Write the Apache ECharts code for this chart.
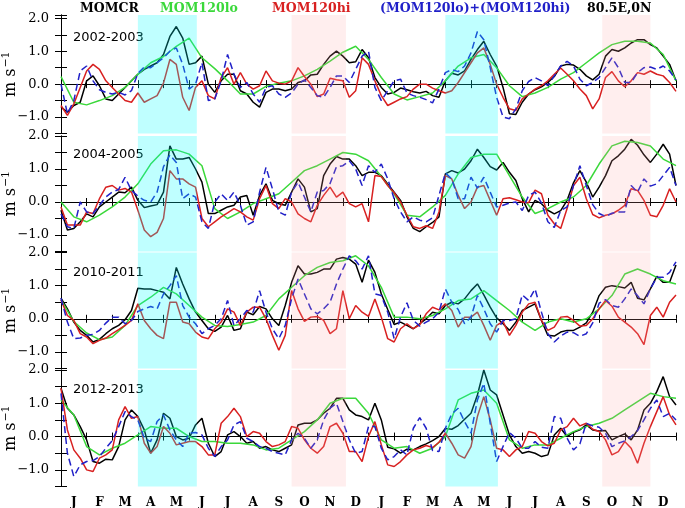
<!DOCTYPE html>
<html><head><meta charset="utf-8">
<script src="https://cdn.jsdelivr.net/npm/echarts@6/dist/echarts.min.js"></script>
<style>html,body{margin:0;padding:0;background:#fff}#c{width:685px;height:508px}</style>
</head><body><div id="c"></div>
<script>
const monthLabels = ['J','F','M','A','M','J','J','A','S','O','N','D','J','F','M','A','M','J','J','A','S','O','N','D'];
// x positions in months from 1 January of the first year
const xQuarter = [0,0.25,0.5,0.75,1,1.25,1.5,1.75,2,2.25,2.5,2.75,3,3.25,3.5,3.75,4,4.25,4.5,4.75,5,5.25,5.5,5.75,6,6.25,6.5,6.75,7,7.25,7.5,7.75,8,8.25,8.5,8.75,9,9.25,9.5,9.75,10,10.25,10.5,10.75,11,11.25,11.5,11.75,12,12.25,12.5,12.75,13,13.25,13.5,13.75,14,14.25,14.5,14.75,15,15.25,15.5,15.75,16,16.25,16.5,16.75,17,17.25,17.5,17.75,18,18.25,18.5,18.75,19,19.25,19.5,19.75,20,20.25,20.5,20.75,21,21.25,21.5,21.75,22,22.25,22.5,22.75,23,23.25,23.5,23.75,24];
const xHalf = [0,0.5,1,1.5,2,2.5,3,3.5,4,4.5,5,5.5,6,6.5,7,7.5,8,8.5,9,9.5,10,10.5,11,11.5,12,12.5,13,13.5,14,14.5,15,15.5,16,16.5,17,17.5,18,18.5,19,19.5,20,20.5,21,21.5,22,22.5,23,23.5,24];
const yearLabels = ['2002-2003','2004-2005','2010-2011','2012-2013'];
const legendNames = ['MOMCR','MOM120lo','MOM120hi','(MOM120lo)+(MOM120hi)'];
const locationLabel = '80.5E,0N';

// ---- 2002-2003 ----
const momcr_a = [-0.7,-0.85,-0.65,-0.55, 0.1,0.25,-0.05,-0.45, -0.5,-0.3,-0.1,0.1, 0.3,0.45,0.55,0.65, 0.9,1.45,1.75,1.4, 0.6,0.65,0.85,0.0,
  -0.25,0.1,0.3,0.3, -0.2,-0.3,-0.55,-0.7, -0.25,-0.15,-0.15,-0.2, -0.15,0.05,0.1,0.28, 0.3,0.6,0.85,1.0, 0.85,0.65,0.68,1.05,
  0.8,0.2,-0.1,-0.3, -0.25,-0.12,-0.17,-0.23, -0.27,-0.22,-0.35,-0.4, 0.1,0.33,0.28,0.4, 0.75,1.05,1.3,0.9, 0.55,-0.1,-0.9,-0.92,
  -0.55,-0.3,-0.17,-0.08, 0.05,0.23,0.55,0.6, 0.58,0.45,0.25,0.13, 0.3,0.85,1.05,1.0, 1.1,1.25,1.35,1.35, 1.2,1.1,0.85,0.6, 0.1];
const lo_a = [0.23,-0.55,-0.63,-0.5,-0.35,-0.1,0.3,0.65,0.84,1.15,1.4,0.8,0.47,0.1,-0.3,-0.3,-0.07,0.03,0.1,0.25,0.45,0.7,0.97,1.15,
  0.75,0.2,-0.3,-0.48,-0.38,-0.27,0.1,0.55,0.8,0.9,0.5,-0.05,-0.38,-0.27,-0.1,0.15,0.35,0.65,0.95,1.2,1.3,1.3,1.25,0.9,0.1];
const hi_a = [-0.65,-0.95,-0.6,-0.1, 0.4,0.6,0.45,0.1, -0.1,-0.3,-0.5,-0.55, -0.27,-0.55,-0.45,-0.35, 0.03,0.75,0.6,-0.4, -0.8,-0.1,0.1,-0.35,
  -0.45,0.2,0.5,0.0, 0.35,0.0,-0.15,-0.05, 0.4,0.1,0.03,0.0, 0.1,0.5,0.23,0.0, -0.38,-0.3,0.18,0.13, 0.1,-0.4,-0.2,0.8,
  0.6,0.1,-0.35,-0.65, -0.55,-0.45,-0.38,-0.15, 0.0,0.0,-0.12,-0.2, -0.27,-0.2,0.05,0.35, 0.65,0.95,1.1,0.6, 0.0,-0.4,-0.75,-0.8,
  -0.45,-0.3,-0.15,-0.05, 0.1,0.3,0.49,0.3, 0.1,-0.15,-0.35,-0.75, -0.45,0.2,0.38,0.1, -0.08,0.1,0.35,0.3, 0.4,0.3,0.25,0.05, -0.22];
const sum_a = [0.0,-0.9,-0.5,0.4, 0.55,0.1,-0.17,-0.25, -0.3,-0.25,-0.33,-0.2, 0.33,0.52,0.5,0.65, 0.8,1.0,1.1,0.6, -0.15,0.0,0.65,-0.5,
  -0.45,0.1,0.9,0.3, -0.1,0.05,-0.3,-0.55, -0.1,-0.05,-0.3,-0.4, -0.27,0.0,0.13,-0.1, -0.35,-0.4,-0.1,0.25, 0.25,0.05,0.45,0.85,
  1.0,-0.1,-0.5,-0.2, 0.1,0.15,-0.27,-0.35, -0.4,-0.47,-0.57,-0.15, 0.35,0.44,0.38,0.55, 0.95,1.6,1.35,0.5, -0.4,-1.0,-1.05,-0.75,
  -0.2,0.08,0.2,0.1, -0.05,0.25,0.55,0.69, 0.55,0.15,-0.05,0.05, 0.2,0.5,0.8,0.5, 0.05,0.05,0.35,0.5, 0.52,0.45,0.55,0.4, 0.13];

// ---- 2004-2005 ----
const momcr_b = [-0.25,-0.85,-0.8,-0.6, -0.36,-0.45,-0.15,0.0, 0.15,0.3,0.28,0.45, 0.05,-0.17,-0.12,-0.08, 0.3,1.7,1.3,1.3, 1.35,1.0,0.6,-0.35,
  -0.35,-0.25,-0.15,-0.1, 0.15,0.2,-0.4,0.2, 0.55,0.05,-0.05,-0.1, 0.3,0.7,0.45,-0.3, -0.2,0.8,1.15,1.38, 1.3,1.3,1.1,0.8,
  0.9,0.9,0.8,0.55, 0.3,0.05,-0.45,-0.8, -0.9,-0.75,-0.62,-0.45, 0.85,0.95,0.88,1.0, 1.25,1.6,1.35,1.07, 0.97,1.2,0.9,0.65,
  0.1,-0.3,0.05,-0.05, -0.25,-0.36,-0.26,0.05, 0.58,0.95,0.6,0.15, 0.45,0.8,1.25,1.4, 1.6,1.9,1.72,1.43, 1.2,1.45,1.75,1.45, 0.5];
const lo_b = [0.0,-0.45,-0.6,-0.4,-0.15,0.15,0.55,1.15,1.55,1.58,1.45,1.1,-0.2,-0.5,-0.3,-0.05,0.1,0.25,0.6,0.95,1.1,1.3,1.5,1.45,
  1.25,0.77,0.25,-0.4,-0.45,-0.15,0.2,0.85,1.35,1.45,1.45,0.8,0.15,-0.35,-0.2,0.0,0.15,0.5,1.15,1.7,1.84,1.8,1.7,1.3,1.1];
const hi_b = [-0.15,-0.7,-0.7,-0.7, -0.3,-0.35,0.1,0.45, 0.5,0.36,0.41,0.3, -0.25,-0.85,-1.05,-0.92, -0.5,0.95,0.7,0.7, 0.55,0.45,-0.5,-0.75,
  -0.6,-0.45,-0.33,-0.2, -0.3,-0.45,-0.55,0.1, 0.5,-0.05,-0.2,0.1, 0.0,-0.36,-0.5,-0.6, -0.1,0.2,0.45,0.15, 0.3,-0.05,-0.15,-0.05,
  -0.6,0.8,0.77,0.5, 0.28,0.0,-0.4,-0.75, -0.8,-0.72,-0.8,-0.3, 0.8,0.7,0.2,-0.2, 0.0,0.45,0.5,0.05, -0.4,0.1,0.13,0.07,
  0.0,-0.02,0.36,0.25, -0.4,-0.66,-0.8,-0.2, 0.5,0.75,0.1,-0.38, -0.48,-0.4,-0.36,-0.25, -0.1,0.4,0.35,0.05, -0.4,-0.45,-0.1,0.4, 0.0];
const sum_b = [-0.36,-0.75,-0.8,0.0, -0.3,-0.35,-0.1,0.15, 0.3,0.38,0.75,0.35, 0.18,0.05,0.0,0.3, 1.07,1.43,1.2,0.1, 0.25,0.15,-0.6,-0.8,
  0.0,0.25,0.05,0.3, -0.1,-0.7,-0.6,0.3, 1.05,0.4,-0.3,-0.4, 0.3,0.6,0.15,-0.3, 0.3,0.35,0.56,1.07, 1.1,1.25,1.0,0.5,
  1.1,0.9,1.15,0.7, 0.1,-0.3,-0.6,-0.45, -0.55,-0.6,-0.48,0.2, 0.88,0.7,0.1,0.1, 0.75,0.42,0.75,0.3, -0.15,-0.1,-0.03,0.0,
  -0.26,0.2,0.3,-0.03, -0.6,-0.77,-0.26,-0.15, 0.5,1.1,0.5,-0.08, -0.35,-0.44,-0.34,-0.3, -0.3,0.5,0.3,0.7, 0.48,0.55,0.8,1.05, 0.5];

// ---- 2010-2011 ----
const momcr_c = [0.62,0.3,-0.1,-0.35, -0.5,-0.7,-0.62,-0.45, -0.3,-0.2,-0.03,0.25, 0.92,0.9,0.9,0.85, 0.8,0.6,1.55,1.05, 0.6,0.2,-0.05,-0.3,
  -0.38,-0.25,0.1,-0.35, -0.3,0.2,0.12,0.37, 0.3,0.0,-0.2,0.4, 1.1,1.6,1.35,1.35, 1.4,1.5,1.5,1.8, 1.85,1.8,1.65,1.1,
  1.77,1.4,0.75,0.28, -0.17,-0.1,-0.2,-0.3, -0.15,0.0,0.2,0.15, 0.4,0.5,0.45,0.6, 0.85,1.05,0.72,0.35, 0.03,-0.15,-0.35,-0.1,
  0.25,0.35,0.45,-0.05, -0.5,-0.52,-0.4,-0.35, -0.35,-0.25,-0.12,0.2, 0.7,0.95,1.0,0.97, 0.93,1.1,0.62,0.57, 0.9,1.28,1.1,1.1, 1.62];
const lo_c = [0.57,-0.08,-0.43,-0.63,-0.55,-0.2,0.4,0.65,0.95,0.75,0.4,0.05,-0.2,-0.23,-0.17,-0.1,0.1,0.6,0.95,1.3,1.55,1.7,1.75,1.9,
  1.6,0.95,0.05,0.05,0.0,0.1,0.3,0.55,0.6,0.85,0.55,0.25,-0.1,-0.35,-0.1,0.0,-0.1,0.0,0.3,0.7,1.35,1.5,1.35,1.15,1.05];
const hi_c = [0.57,0.1,-0.05,-0.45, -0.55,-0.75,-0.65,-0.58, -0.45,-0.33,-0.2,-0.05, 0.45,-0.05,-0.3,-0.5, -0.6,0.5,0.5,-0.1, -0.15,-0.4,-0.55,-0.6,
  -0.3,-0.1,0.3,0.2, -0.2,0.2,0.35,0.35, 0.0,-0.5,-0.95,-0.5, 0.85,0.3,-0.08,0.05, 0.07,-0.05,-0.45,-0.3, 0.85,0.0,0.4,0.2,
  0.07,0.6,0.05,-0.6, -0.7,-0.3,-0.15,-0.3, -0.18,0.15,0.35,0.27, 0.45,0.25,-0.25,0.05, 0.05,0.2,-0.2,-0.65, -0.2,-0.08,-0.5,-0.2,
  0.2,0.45,0.5,-0.05, -0.35,-0.25,0.05,0.07, -0.05,-0.22,-0.2,0.0, 0.3,0.55,0.38,0.05, -0.1,-0.25,-0.45,-0.78, 0.1,0.35,0.05,0.5, 0.72];
const sum_c = [0.62,-0.1,-0.6,-0.58, -0.5,-0.47,-0.35,-0.13, 0.05,0.05,-0.15,-0.05, 0.22,0.3,0.37,0.3, 0.75,1.0,1.3,0.4, 0.05,-0.15,-0.45,-0.3,
  -0.2,0.0,0.55,-0.2, 0.0,0.25,0.2,0.85, 0.2,-0.3,-0.6,-0.2, 0.6,1.2,0.75,0.3, 0.15,0.3,0.5,1.05, 1.5,1.9,1.75,1.5,
  1.9,0.75,0.7,0.2, -0.6,0.05,0.48,-0.05, -0.22,-0.1,0.0,0.2, 0.9,0.5,0.28,-0.15, 0.05,0.7,0.3,-0.15, -0.4,-0.05,-0.05,0.0,
  0.72,0.55,0.9,0.2, -0.45,-0.7,-0.52,-0.4, -0.42,-0.53,-0.45,-0.12, 0.47,0.58,0.4,0.35, 0.6,0.9,0.7,0.45, 0.9,1.25,1.25,1.4, 1.72];

// ---- 2012-2013 ----
const momcr_d = [1.45,0.85,0.65,0.3, -0.1,-0.75,-0.8,-0.68, -0.7,-0.3,0.5,0.8, 0.6,0.2,-0.5,-0.1, 0.7,0.55,0.0,-0.1, -0.05,0.35,0.55,-0.2,
  -0.6,-0.45,0.05,0.15, 0.0,-0.2,-0.15,-0.35, -0.3,-0.4,-0.45,-0.35, -0.25,0.35,0.4,0.4, 0.5,0.7,0.85,1.15, 1.15,0.8,0.65,0.6,
  0.5,1.0,0.5,-0.32, -0.37,-0.5,-0.38,-0.4, -0.3,-0.22,-0.12,0.0, 0.24,0.22,0.33,0.52, 0.7,1.25,2.0,1.4, 1.25,0.65,0.05,-0.3,
  -0.5,-0.45,-0.5,-0.6, -0.55,0.05,0.25,0.0, 0.13,0.2,0.35,0.2, 0.17,0.18,-0.1,0.0, 0.08,-0.1,0.2,0.8, 1.0,1.35,1.8,1.2, 0.95];
const lo_d = [1.1,0.65,-0.3,-0.55,-0.35,-0.2,0.05,0.3,0.25,0.25,0.0,-0.15,-0.15,-0.2,-0.2,-0.25,-0.4,-0.35,-0.1,0.15,0.5,1.0,1.15,1.15,
  0.7,-0.1,-0.35,-0.3,-0.5,-0.35,0.0,1.1,1.3,1.4,1.0,-0.1,-0.35,-0.25,-0.25,-0.05,0.15,0.3,0.4,0.55,0.8,1.05,1.3,1.2,1.15];
const hi_d = [1.45,0.2,-0.4,-0.65, -1.0,-1.05,-0.65,-0.55, -0.4,0.5,0.9,0.55, 0.6,-0.2,-0.5,-0.3, 0.3,0.1,-0.25,-0.2, -0.15,-0.15,-0.3,-0.55,
  -0.55,0.4,0.6,0.85, 0.6,0.0,0.15,0.1, -0.15,-0.3,-0.25,-0.15, 0.3,0.25,-0.1,-0.35, -0.5,-0.3,0.3,0.4, 0.1,-0.45,-0.45,-0.75,
  0.0,0.45,-0.25,-0.85, -0.9,-0.75,-0.55,-0.4, -0.35,-0.27,-0.33,-0.17, 0.1,-0.2,-0.55,-0.65, -0.3,0.6,1.2,0.5, -0.35,-0.4,-0.6,-0.4,
  -0.3,0.15,0.1,-0.15, -0.28,-0.2,0.2,0.3, 0.55,0.32,0.4,0.22, 0.15,-0.1,-0.55,-0.45, -0.15,-0.35,-0.8,-0.2, 0.3,0.75,1.2,0.65, 0.35];
const sum_d = [1.3,-0.5,-1.2,-0.85, -0.75,-0.72,-0.6,-0.35, -0.12,0.3,0.75,0.6, 0.5,-0.05,-0.15,0.45, 0.65,0.2,-0.1,-0.3, 0.1,0.12,0.05,-0.35,
  -0.6,-0.3,-0.1,0.35, 0.45,-0.05,-0.15,-0.3, -0.35,-0.45,-0.5,-0.55, -0.1,0.1,-0.05,-0.35, -0.1,0.5,0.85,1.0, 0.45,-0.1,-0.5,-0.45,
  0.3,0.3,-0.35,-0.7, -0.6,-0.4,-0.55,0.25, 0.57,0.25,-0.42,-0.45, 0.25,0.68,0.85,0.45, 0.1,1.1,1.6,0.4, -0.75,-0.3,0.12,-0.05,
  -0.35,-0.35,-0.15,-0.32, -0.35,0.6,0.55,-0.05, -0.4,-0.22,0.4,0.32, 0.28,0.1,-0.3,-0.2, -0.13,0.0,0.18,0.5, 0.85,1.1,0.6,0.7, 0.5];

const panels = [
  {label: yearLabels[0], series: [momcr_a, lo_a, hi_a, sum_a]},
  {label: yearLabels[1], series: [momcr_b, lo_b, hi_b, sum_b]},
  {label: yearLabels[2], series: [momcr_c, lo_c, hi_c, sum_c]},
  {label: yearLabels[3], series: [momcr_d, lo_d, hi_d, sum_d]}
];
const cyanSpans = [[3, 5.3], [15, 17.05]];
const pinkSpans = [[9, 11.12], [21.12, 23.0]];

const colors = ['#000000', '#3ad83a', '#d82020', '#2020c8'];
const layout = [
  {top: 15, height: 118.5, max: 2.1, labelTop: 26},
  {top: 136, height: 115.5, max: 2.0, labelTop: 143},
  {top: 252.5, height: 116, max: 2.0, labelTop: 261},
  {top: 370, height: 116.5, max: 2.0, labelTop: 378}
];
const serif = 'DejaVu Serif';

const grid = [], xAxis = [], yAxis = [], series = [], title = [];
const fmtY = v => Math.abs(v - Math.round(v)) < 1e-6 ? v.toFixed(1).replace('-', '\u2212') : '';

layout.forEach((L, i) => {
  grid.push({left: 61, right: 9, top: L.top, height: L.height, containLabel: false, outerBoundsMode: 'none'});
  const xBase = {gridIndex: i, type: 'value', min: 0, max: 24, interval: 1,
    axisLine: {show: true, lineStyle: {color: '#000', width: 1}},
    axisTick: {show: true, inside: true, length: 4, lineStyle: {color: '#000'}},
    axisLabel: {show: false}, splitLine: {show: false}};
  xAxis.push(Object.assign({}, xBase, {position: 'bottom'}));
  xAxis.push(Object.assign({}, xBase, {position: 'top'}));
  const yBase = {gridIndex: i, type: 'value', min: -1.5, max: L.max, interval: 0.5,
    axisLine: {show: true, lineStyle: {color: '#000', width: 1}},
    axisTick: {show: true, inside: false, length: 6, lineStyle: {color: '#000'}},
    splitLine: {show: false}};
  yAxis.push(Object.assign({}, yBase, {position: 'left',
    axisLabel: {show: true, formatter: fmtY, fontFamily: serif, fontSize: 13, color: '#000', margin: 12},
    name: 'm s{sup|\u22121}', nameLocation: 'middle', nameRotate: 90, nameGap: 40, nameMoveOverlap: false,
    nameTextStyle: {fontFamily: serif, fontSize: 16, color: '#000',
      rich: {sup: {fontFamily: serif, fontSize: 11, color: '#000', verticalAlign: 'top', padding: [0, 0, 9, 1]}}}}));
  yAxis.push(Object.assign({}, yBase, {position: 'right', axisLabel: {show: false}}));

  panels[i].series.forEach((arr, k) => {
    const xs = (k === 1) ? xHalf : xQuarter;
    series.push({
      type: 'line', name: legendNames[k], xAxisIndex: 2 * i, yAxisIndex: 2 * i,
      data: xs.map((x, j) => [x, arr[j]]), showSymbol: false, symbol: 'none',
      smooth: false, z: 2 + k,
      lineStyle: {color: colors[k], width: 1.5, type: k === 3 ? [7, 4] : 'solid'},
      silent: true
    });
  });
  series.push({
    type: 'line', xAxisIndex: 2 * i, yAxisIndex: 2 * i, data: [[0, null]], silent: true, symbol: 'none',
    markArea: {silent: true, z: 20,
      data: cyanSpans.map(s => [{xAxis: s[0], itemStyle: {color: 'rgba(0,255,255,0.25)'}}, {xAxis: s[1]}])
        .concat(pinkSpans.map(s => [{xAxis: s[0], itemStyle: {color: 'rgba(255,160,160,0.18)'}}, {xAxis: s[1]}]))}
  });
  title.push({text: panels[i].label, left: 68, top: L.labelTop,
    textStyle: {fontFamily: 'DejaVu Sans', fontSize: 13, fontWeight: 'normal', color: '#000'}});
});

xAxis.push({gridIndex: 3, type: 'category', data: monthLabels, position: 'bottom', boundaryGap: true,
  axisLine: {show: false}, axisTick: {show: false}, splitLine: {show: false},
  axisLabel: {interval: 0, margin: 10, fontFamily: serif, fontWeight: 'bold', fontSize: 12, color: '#000'}});

const legendPos = [75, 155, 267, 375];
legendNames.forEach((n, k) => {
  title.push({text: n, left: legendPos[k], top: -3,
    textStyle: {fontFamily: serif, fontSize: 12.5, fontWeight: 'bold', color: colors[k]}});
});
title.push({text: locationLabel, left: 582, top: -3,
  textStyle: {fontFamily: serif, fontSize: 12.5, fontWeight: 'bold', color: '#000'}});

const chart = echarts.init(document.getElementById('c'), null, {renderer: 'canvas'});
chart.setOption({animation: false, backgroundColor: '#fff', title, grid, xAxis, yAxis, series});
</script></body></html>
